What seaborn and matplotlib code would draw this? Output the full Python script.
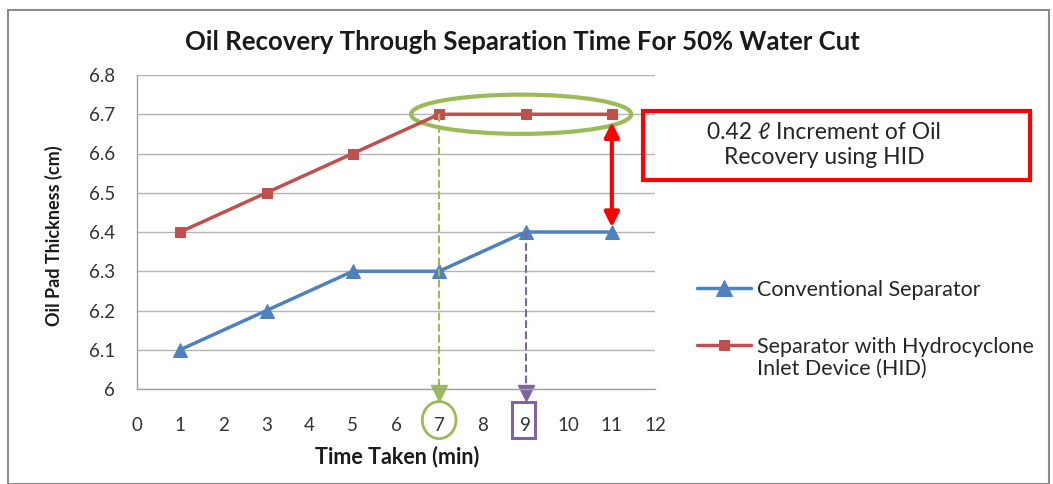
import numpy as np
import pandas as pd
import matplotlib
matplotlib.use("Agg")
import matplotlib.pyplot as plt
import seaborn as sns
from matplotlib.patches import Ellipse, Rectangle

times = [1, 3, 5, 7, 9, 11]
conventional = [6.1, 6.2, 6.3, 6.3, 6.4, 6.4]
hid = [6.4, 6.5, 6.6, 6.7, 6.7, 6.7]
series_names = ["Conventional Separator", "Separator with Hydrocyclone\nInlet Device (HID)"]
x_ticks = list(range(0, 13))
y_ticks = [6, 6.1, 6.2, 6.3, 6.4, 6.5, 6.6, 6.7, 6.8]
y_tick_labels = ["6", "6.1", "6.2", "6.3", "6.4", "6.5", "6.6", "6.7", "6.8"]

blue = "#4F81BD"
red = "#C0504D"
green = "#9BBB59"
purple = "#8064A2"
W, H = 1053, 484

sns.set_style("white")
plt.rcParams['font.family'] = ['Lato', 'DejaVu Sans']

fig = plt.figure(figsize=(10.53, 4.84), dpi=100)
ax = fig.add_axes([137 / W, 1 - 389 / H, 518 / W, 314 / H])

# legend shows only the first line of each name; the rest is put below by hand
sns.lineplot(x=times, y=conventional, ax=ax, color=blue, marker="^", markersize=10,
             markeredgecolor=blue, linewidth=2.5, label=series_names[0].split("\n")[0])
sns.lineplot(x=times, y=hid, ax=ax, color=red, marker="s", markersize=7,
             markeredgecolor=red, linewidth=2.5, label=series_names[1].split("\n")[0])

ax.set_xlim(0, 12)
ax.set_ylim(6, 6.8)
ax.set_xticks(x_ticks)
ax.set_yticks(y_ticks)
ax.set_yticklabels(y_tick_labels)
ax.tick_params(axis="both", length=0, labelsize=13.5, labelcolor="#333333")
ax.tick_params(axis="x", pad=20)
ax.tick_params(axis="y", pad=16)
ax.yaxis.grid(True, color="#B4B4B4", linewidth=1)
ax.xaxis.grid(False)
for s in ["top", "right"]:
    ax.spines[s].set_visible(False)
for s in ["left", "bottom"]:
    ax.spines[s].set_color("#A0A0A0")
    ax.spines[s].set_linewidth(1)

ax.set_xlabel("")
ax.set_ylabel("")
fig.text(397 / W, 1 - 457 / H, "Time Taken (min)", ha="center", va="center",
         fontsize=15.5, fontweight="bold", color="#1a1a1a")
fig.text(54 / W, 1 - 236 / H, "Oil Pad Thickness (cm)", ha="center", va="center", rotation=90,
         fontsize=13, fontweight="bold", color="#1a1a1a")
fig.text(522 / W, 1 - 42 / H, "Oil Recovery Through Separation Time For 50% Water Cut",
         ha="center", va="center", fontsize=18.5, fontweight="bold", color="#1a1a1a")

# green dashed arrow at t=7
ax.plot([times[3], times[3]], [hid[3], 6.0], ls="--", color=green, lw=1.5, clip_on=False)
ax.plot([times[3]], [5.99], marker="v", markersize=11, color=green, clip_on=False)
# purple dashed arrow at t=9
ax.plot([times[4], times[4]], [conventional[4], 6.0], ls="--", color=purple, lw=1.5, clip_on=False)
ax.plot([times[4]], [5.99], marker="v", markersize=11, color=purple, clip_on=False)

# ellipse around the plateau
ax.add_patch(Ellipse((8.9, hid[3]), 5.1, 0.1, fill=False, edgecolor=green, lw=3, clip_on=False))

# marks around tick labels
xt = ax.get_xaxis_transform()
ax.add_patch(Ellipse((7, -0.099), 0.78, 0.118, transform=xt, fill=False, edgecolor=green, lw=2, clip_on=False))
ax.add_patch(Rectangle((8.68, -0.156), 0.54, 0.115, transform=xt, fill=False, edgecolor=purple, lw=2.2, clip_on=False))

# red double arrow
ax.annotate("", xy=(times[5], conventional[5] + 0.012), xytext=(times[5], hid[5] - 0.02),
            arrowprops=dict(arrowstyle="<|-|>", color="#FF0000", lw=3, mutation_scale=22,
                            shrinkA=0, shrinkB=0), annotation_clip=False)

# red text box
fig.patches.append(Rectangle((643 / W, 1 - 180 / H), 387 / W, 69 / H,
                             transform=fig.transFigure, fill=False, edgecolor="#FF0000", lw=3))
fig.text(824 / W, 1 - 145 / H, "0.42 \u2113 Increment of Oil\nRecovery using HID",
         ha="center", va="center", fontsize=16.5, color="#262626", linespacing=1.2,
         family=['Lato', 'DejaVu Sans'])

# outer frame
fig.patches.append(Rectangle((8 / W, 0), 1041 / W, 1 - 10 / H,
                             transform=fig.transFigure, fill=False, edgecolor="#8C8C8C", lw=1.5))

ax.legend(loc="upper left", bbox_to_anchor=(697 / W, 1 - 280 / H), bbox_transform=fig.transFigure,
          frameon=False, fontsize=15.5, handlelength=2.5, handletextpad=0.3, labelspacing=1.7,
          borderpad=0, borderaxespad=0, labelcolor="#262626", markerscale=1.1)
fig.text(757 / W, 1 - 369 / H, series_names[1].split("\n")[1], ha="left", va="center",
         fontsize=15.5, color="#262626")

fig.savefig("out.png", dpi=100)
